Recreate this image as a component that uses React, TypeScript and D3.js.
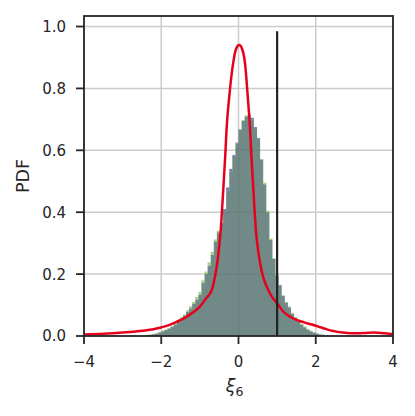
import React from "react";
import * as d3 from "d3";

// ---- data ----
const xTicks = [-4, -2, 0, 2, 4];
const yTicks = [0, 0.2, 0.4, 0.6, 0.8, 1.0];
const xTickLabels = ["\u22124", "\u22122", "0", "2", "4"];
const yTickLabels = ["0.0", "0.2", "0.4", "0.6", "0.8", "1.0"];

const binStart = -2.4;
const binWidth = 0.08;

// histogram (blue sample) densities per bin
const histBlue = [
  0.003, 0.004, 0.006, 0.008, 0.011, 0.015, 0.019, 0.024, 0.030, 0.037,
  0.046, 0.056, 0.066, 0.078, 0.090, 0.104, 0.118, 0.134, 0.172, 0.20,
  0.228, 0.262, 0.305, 0.335, 0.365, 0.41, 0.48, 0.54, 0.585, 0.625,
  0.668, 0.695, 0.71, 0.716, 0.705, 0.675, 0.64, 0.57, 0.49, 0.40,
  0.31, 0.25, 0.195, 0.165, 0.13, 0.108, 0.093, 0.072, 0.058, 0.046,
  0.036, 0.028, 0.021, 0.015, 0.011, 0.008, 0.005, 0.004, 0.002, 0.001,
];

// histogram (green sample) densities per bin
const histGreen = [
  0.004, 0.005, 0.007, 0.009, 0.012, 0.017, 0.021, 0.026, 0.032, 0.040,
  0.049, 0.060, 0.070, 0.083, 0.096, 0.110, 0.126, 0.142, 0.180, 0.208,
  0.238, 0.272, 0.312, 0.340, 0.362, 0.402, 0.47, 0.532, 0.578, 0.622,
  0.665, 0.698, 0.713, 0.712, 0.700, 0.672, 0.638, 0.572, 0.495, 0.405,
  0.315, 0.252, 0.197, 0.163, 0.131, 0.110, 0.095, 0.075, 0.061, 0.049,
  0.039, 0.031, 0.023, 0.017, 0.012, 0.009, 0.006, 0.004, 0.003, 0.001,
];

// red density curve
const kdeX = [
  -4.0, -3.5, -3.0, -2.5, -2.2, -2.0, -1.8, -1.6, -1.4, -1.2,
  -1.0, -0.85, -0.69, -0.62, -0.55, -0.5, -0.46, -0.42, -0.38, -0.34,
  -0.31, -0.24, -0.14, -0.07, 0.02, 0.1, 0.17, 0.24, 0.3, 0.33,
  0.37, 0.41, 0.45, 0.5, 0.56, 0.64, 0.73, 0.85, 1.0, 1.15,
  1.33, 1.5, 1.7, 1.9, 2.05, 2.2, 2.35, 2.5, 2.7, 2.9,
  3.1, 3.3, 3.5, 3.7, 3.85, 4.0,
];
const kdeY = [
  0.005, 0.007, 0.011, 0.017, 0.022, 0.028, 0.035, 0.046, 0.058, 0.074,
  0.095, 0.12, 0.149, 0.185, 0.235, 0.29, 0.342, 0.42, 0.504, 0.59,
  0.666, 0.773, 0.88, 0.925, 0.94, 0.925, 0.88, 0.773, 0.666, 0.59,
  0.504, 0.42, 0.342, 0.285, 0.235, 0.19, 0.16, 0.13, 0.106, 0.08,
  0.063, 0.052, 0.044, 0.037, 0.031, 0.025, 0.019, 0.015, 0.011, 0.009,
  0.009, 0.010, 0.011, 0.010, 0.008, 0.006,
];

const refLineX = 1.0;
const refLineTop = 0.985;

export default function App() {
  const W = 415, H = 416;
  const left = 84, right = 393, top = 16, bottom = 336;
  const x = d3.scaleLinear().domain([-4, 4]).range([left, right]);
  const y = d3.scaleLinear().domain([0, 1.034]).range([bottom, top]);

  type P = { x: number; v: number };
  const stepPts = (vals: number[]): P[] => {
    const pts: P[] = [];
    vals.forEach((v, i) => {
      const x0 = binStart + i * binWidth;
      pts.push({ x: x0, v });
      pts.push({ x: x0 + binWidth, v });
    });
    return pts;
  };
  const minH = histBlue.map((v, i) => Math.min(v, histGreen[i]));
  const area = d3
    .area<P>()
    .x((d) => x(d.x))
    .y0(y(0))
    .y1((d) => y(d.v));
  const overlapPath = area(stepPts(minH)) || "";

  const fringe = (vals: number[]) =>
    vals
      .map((v, i) => ({ i, v, m: minH[i] }))
      .filter((d) => d.v > d.m);

  const line = d3
    .line<number>()
    .x((_, i) => x(kdeX[i]))
    .y((d) => y(d))
    .curve(d3.curveMonotoneX);
  const kdePath = line(kdeY) || "";

  const font = "'DejaVu Sans', Verdana, sans-serif";
  const spine = "#262626";

  return (
    <svg
      width={W}
      height={H}
      style={{ position: "absolute", left: 0, top: 0, background: "#fff" }}
    >
      {/* grid */}
      {xTicks.map((t) => (
        <line key={"gx" + t} x1={x(t)} x2={x(t)} y1={top} y2={bottom} stroke="#cccccc" strokeWidth={1.5} />
      ))}
      {yTicks.map((t) => (
        <line key={"gy" + t} x1={left} x2={right} y1={y(t)} y2={y(t)} stroke="#cccccc" strokeWidth={1.5} />
      ))}

      {/* histograms */}
      <path d={overlapPath} fill="#587573" fillOpacity={0.85} />
      {fringe(histGreen).map((d) => (
        <rect
          key={"g" + d.i}
          x={x(binStart + d.i * binWidth)}
          width={x(binWidth) - x(0)}
          y={y(d.v)}
          height={y(d.m) - y(d.v)}
          fill="#95c866"
          fillOpacity={0.85}
        />
      ))}
      {fringe(histBlue).map((d) => (
        <rect
          key={"b" + d.i}
          x={x(binStart + d.i * binWidth)}
          width={x(binWidth) - x(0)}
          y={y(d.v)}
          height={y(d.m) - y(d.v)}
          fill="#5a6a9b"
          fillOpacity={0.85}
        />
      ))}

      {/* density curve */}
      <path d={kdePath} fill="none" stroke="#e6001d" strokeWidth={2.5} />

      {/* reference line */}
      <line
        x1={x(refLineX)}
        x2={x(refLineX)}
        y1={y(0)}
        y2={y(refLineTop)}
        stroke="#222"
        strokeWidth={2.2}
      />

      {/* frame */}
      <rect x={left} y={top} width={right - left} height={bottom - top} fill="none" stroke={spine} strokeWidth={1.8} />

      {/* x ticks */}
      {xTicks.map((t, i) => (
        <g key={"xt" + t}>
          <line x1={x(t)} x2={x(t)} y1={bottom} y2={bottom + 8} stroke={spine} strokeWidth={1.8} />
          <text x={x(t)} y={367} textAnchor="middle" fontFamily={font} fontSize={15} fill="#262626">
            {xTickLabels[i]}
          </text>
        </g>
      ))}
      {/* y ticks */}
      {yTicks.map((t, i) => (
        <g key={"yt" + t}>
          <line x1={left - 8} x2={left} y1={y(t)} y2={y(t)} stroke={spine} strokeWidth={1.8} />
          <text x={66} y={y(t)} dy="0.36em" textAnchor="end" fontFamily={font} fontSize={15} fill="#262626">
            {yTickLabels[i]}
          </text>
        </g>
      ))}

      {/* axis labels */}
      <text x={(left + right) / 2 - 4} y={392} textAnchor="middle" fontFamily={font} fontSize={17.5} fill="#262626">
        <tspan fontStyle="italic">ξ</tspan>
        <tspan fontSize={12.5} dy={4}>6</tspan>
      </text>
      <text
        transform={`translate(29,${(top + bottom) / 2}) rotate(-90)`}
        textAnchor="middle"
        fontFamily={font}
        fontSize={17.5}
        fill="#262626"
      >
        PDF
      </text>
    </svg>
  );
}
